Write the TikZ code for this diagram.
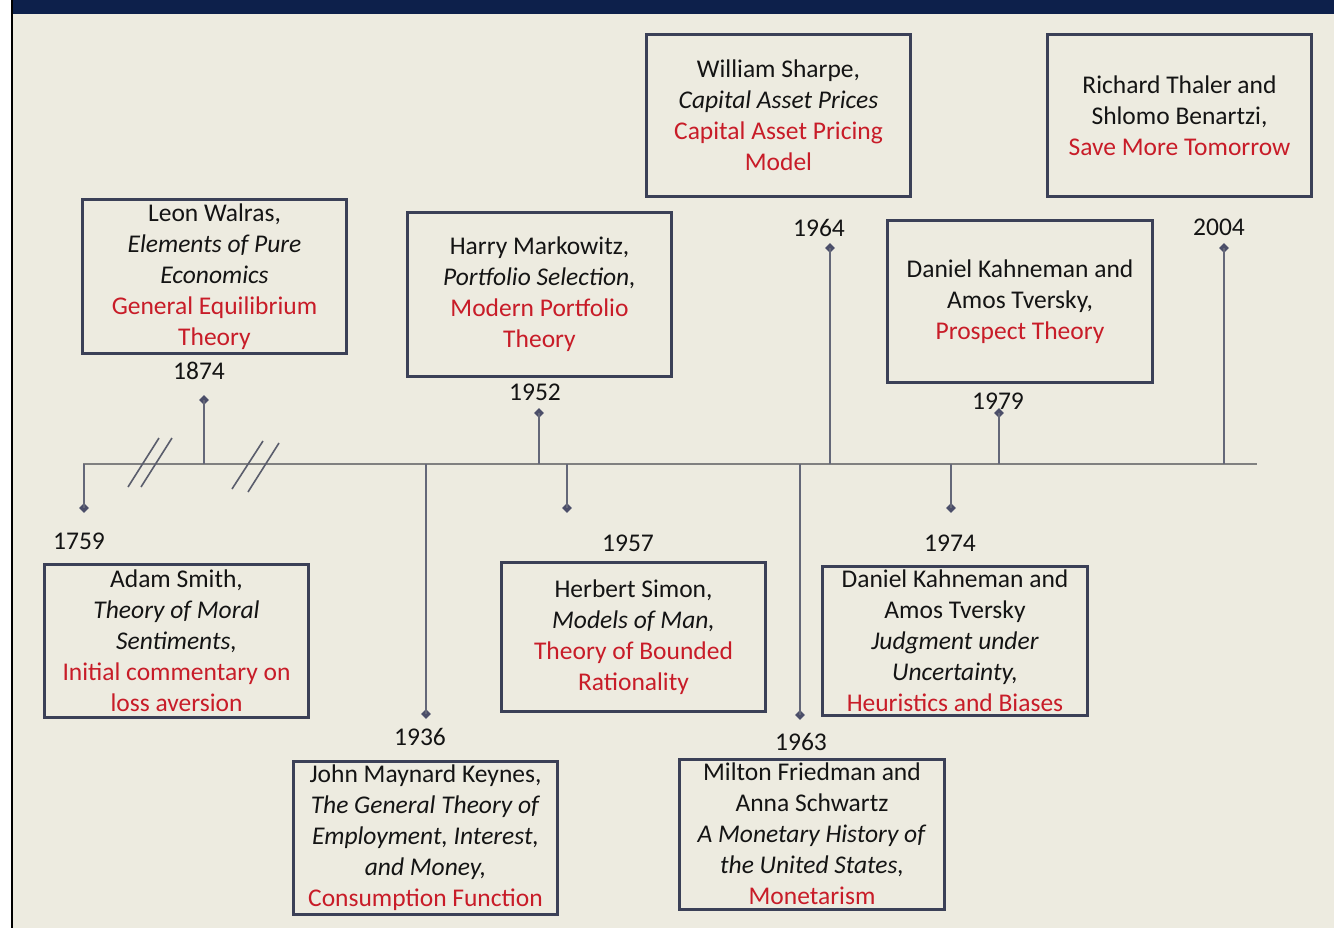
\documentclass[tikz,border=0pt]{standalone}
\usepackage{fontspec}
\setmainfont{Carlito}
\usetikzlibrary{shapes.geometric}
\definecolor{bg}{RGB}{237,235,224}
\definecolor{navy}{RGB}{13,32,75}
\definecolor{boxline}{RGB}{59,64,87}
\definecolor{txtred}{RGB}{200,28,40}
\definecolor{txtblack}{RGB}{20,20,20}
\definecolor{axisgray}{RGB}{128,128,128}
\definecolor{tickgray}{RGB}{100,103,120}
\definecolor{diagray}{RGB}{75,78,105}
\newcommand{\rd}[1]{\textcolor{txtred}{#1}}
\begin{document}
\begin{tikzpicture}[x=1pt,y=-1pt,
  evbox/.style={draw=boxline, line width=3pt, fill=bg, inner sep=0pt, align=center,
    text=txtblack, font=\fontsize{25.5}{31}\selectfont},
  yearlbl/.style={text=txtblack, font=\fontsize{25.5}{28}\selectfont, inner sep=0pt},
  axisline/.style={draw=axisgray, line width=2.2pt},
  tickline/.style={draw=tickgray, line width=1.8pt},
  dia/.style={diamond, fill=diagray, minimum width=10pt, minimum height=10pt, inner sep=0pt},
  hatch/.style={draw=tickgray!90!black, line width=1.6pt}
]
\useasboundingbox (0,0) rectangle (1334,928);
\fill[white] (0,0) rectangle (1334,928);
\fill[bg] (12,0) rectangle (1334,928);
\fill[navy] (12,0) rectangle (1334,14);
\draw[black, line width=2.5pt] (12,0) -- (12,928);

% axis
\coordinate (axL) at (83,464);
\coordinate (axR) at (1257,464);
\draw[axisline] (axL) -- (axR);

% hatch marks
\draw[hatch] (128,487) -- (159,438);
\draw[hatch] (141,487) -- (172,438);
\draw[hatch] (232,489) -- (263,441);
\draw[hatch] (248,492) -- (279,443);

% ticks
\foreach \nm/\xx/\yy in {1759/84/508, 1874/204/400, 1936/426/714, 1952/539/413, 1957/567/508,
  1963/800/715, 1964/830/248, 1974/951/508, 1979/999/413, 2004/1224/248}{
  \coordinate (t\nm) at (\xx,464);
  \node[dia] (d\nm) at (\xx,\yy) {};
  \draw[tickline] (t\nm) -- (d\nm.center);
}

% year labels
\node[yearlbl] (y1759) at (79,541) {1759};
\node[yearlbl] (y1874) at (199,371) {1874};
\node[yearlbl] (y1936) at (420,737) {1936};
\node[yearlbl] (y1952) at (535,392) {1952};
\node[yearlbl] (y1957) at (628,543) {1957};
\node[yearlbl] (y1963) at (801,742) {1963};
\node[yearlbl] (y1964) at (819,228) {1964};
\node[yearlbl] (y1974) at (950,543) {1974};
\node[yearlbl] (y1979) at (998,401) {1979};
\node[yearlbl] (y2004) at (1219,227) {2004};

% boxes
\node[evbox, minimum width=264pt, minimum height=153pt] (bWalras) at (214.5,276.5)
  {Leon Walras,\\\textit{Elements of Pure}\\\textit{Economics}\\\rd{General Equilibrium}\\\rd{Theory}};
\node[evbox, minimum width=264pt, minimum height=163pt] (bMarkowitz) at (539.5,294.5)
  {Harry Markowitz,\\\textit{Portfolio Selection,}\\\rd{Modern Portfolio}\\\rd{Theory}};
\node[evbox, minimum width=264pt, minimum height=162pt] (bSharpe) at (778.5,115.5)
  {William Sharpe,\\\textit{Capital Asset Prices}\\\rd{Capital Asset Pricing}\\\rd{Model}};
\node[evbox, minimum width=264pt, minimum height=162pt] (bThaler) at (1179.5,115.5)
  {Richard Thaler and\\Shlomo Benartzi,\\\rd{Save More Tomorrow}};
\node[evbox, minimum width=265pt, minimum height=162pt] (bPT) at (1020,301.5)
  {Daniel Kahneman and\\Amos Tversky,\\\rd{Prospect Theory}};
\node[evbox, minimum width=264pt, minimum height=153pt] (bSmith) at (176.5,640.5)
  {Adam Smith,\\\textit{Theory of Moral}\\\textit{Sentiments,}\\\rd{Initial commentary on}\\\rd{loss aversion}};
\node[evbox, minimum width=264pt, minimum height=153pt] (bKeynes) at (425.5,838)
  {John Maynard Keynes,\\\textit{The General Theory of}\\\textit{Employment, Interest,}\\\textit{and Money,}\\\rd{Consumption Function}};
\node[evbox, minimum width=264pt, minimum height=149pt] (bSimon) at (633.5,637)
  {Herbert Simon,\\\textit{Models of Man,}\\\rd{Theory of Bounded}\\\rd{Rationality}};
\node[evbox, minimum width=265pt, minimum height=150pt] (bFriedman) at (812,834)
  {Milton Friedman and\\Anna Schwartz\\\textit{A Monetary History of}\\\textit{the United States,}\\\rd{Monetarism}};
\node[evbox, minimum width=265pt, minimum height=149pt] (bJU) at (955,640.5)
  {Daniel Kahneman and\\Amos Tversky\\\textit{Judgment under}\\\textit{Uncertainty,}\\\rd{Heuristics and Biases}};
\end{tikzpicture}
\end{document}
